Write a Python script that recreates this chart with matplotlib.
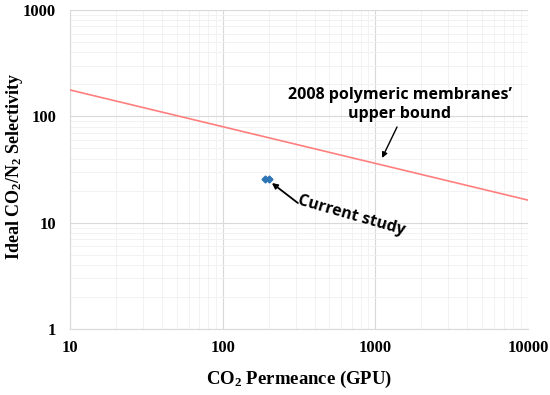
import numpy as np
import matplotlib.pyplot as plt
from matplotlib.ticker import LogLocator, FixedFormatter, FixedLocator

# 2008 upper bound (end points of the straight line in log-log)
bound_x = [10, 10000]
bound_y = [177, 16.3]

# current study points
study_x = [190, 200]
study_y = [25.6, 25.9]

xticks = [10, 100, 1000, 10000]
yticks = [1, 10, 100, 1000]

plt.rcParams["mathtext.fontset"] = "custom"
plt.rcParams["mathtext.rm"] = "Liberation Serif:bold"
plt.rcParams["mathtext.it"] = "Liberation Serif:bold"

fig = plt.figure(figsize=(5.5, 3.95), dpi=100)
ax = fig.add_axes([70 / 550, 1 - 329 / 395, 458 / 550, 319 / 395])

ax.plot(bound_x, bound_y, color="#ff7f7f", lw=1.2, zorder=3)
ax.plot(study_x, study_y, ls="none", marker="D", ms=3.5, color="#2e75b6", zorder=4)

ax.set_xscale("log")
ax.set_yscale("log")
ax.set_xlim(10, 10000)
ax.set_ylim(1, 1000)

ax.xaxis.set_major_locator(FixedLocator(xticks))
ax.xaxis.set_major_formatter(FixedFormatter([str(v) for v in xticks]))
ax.yaxis.set_major_locator(FixedLocator(yticks))
ax.yaxis.set_major_formatter(FixedFormatter([str(v) for v in yticks]))
ax.xaxis.set_minor_locator(LogLocator(base=10, subs=np.arange(2, 10)))
ax.yaxis.set_minor_locator(LogLocator(base=10, subs=np.arange(2, 10)))
ax.xaxis.set_minor_formatter(plt.NullFormatter())
ax.yaxis.set_minor_formatter(plt.NullFormatter())

ax.grid(which="major", color="#d9d9d9", lw=0.8)
ax.grid(which="minor", color="#f0f0f0", lw=0.6)
ax.tick_params(which="both", length=0)
ax.tick_params(axis="x", pad=8)
ax.tick_params(axis="y", pad=10)
for s in ["top", "right"]:
    ax.spines[s].set_visible(False)
for s in ["left", "bottom"]:
    ax.spines[s].set_color("#d9d9d9")

serif = {"family": "Liberation Serif", "weight": "bold"}
for lab in ax.get_xticklabels() + ax.get_yticklabels():
    lab.set_fontfamily("Liberation Serif")
    lab.set_fontweight("bold")
    lab.set_fontsize(12)

ax.set_xlabel("CO$_2$ Permeance (GPU)", fontdict=serif, fontsize=13.5, labelpad=9)
ax.set_ylabel("Ideal CO$_2$/N$_2$ Selectivity", fontdict=serif, fontsize=13)
ax.yaxis.set_label_coords(-0.098, 0.51)

sans = {"family": "Open Sans", "weight": "bold"}
ax.text(1449, 128, "2008 polymeric membranes’\nupper bound", ha="center", va="center",
        fontsize=11.5, linespacing=1.25, **sans)
ax.annotate("", xy=(1107, 40.6), xytext=(1387, 79.4),
            arrowprops=dict(arrowstyle="-|>", color="black", lw=1.0, mutation_scale=8,
                            shrinkA=0, shrinkB=0))
ax.annotate("", xy=(210, 23.6), xytext=(311, 15.3),
            arrowprops=dict(arrowstyle="-|>", color="black", lw=1.3, mutation_scale=8,
                            shrinkA=0, shrinkB=0))
ax.text(703, 11.6, "Current study", fontsize=11.5, rotation=-16,
        ha="center", va="center", **sans)

fig.savefig("out.png", dpi=100)
